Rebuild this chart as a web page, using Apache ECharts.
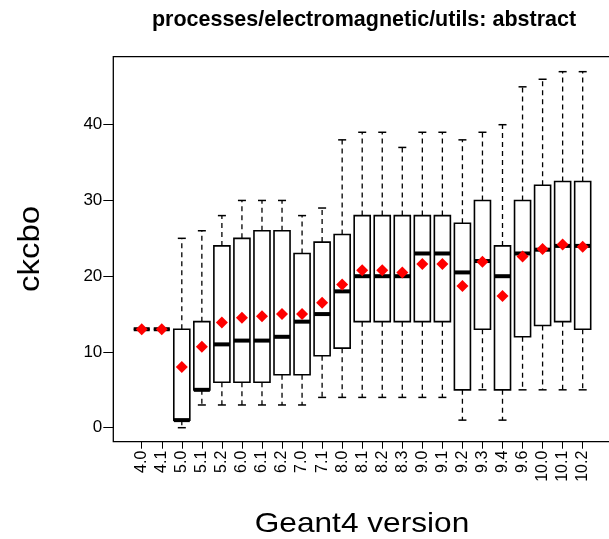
<!DOCTYPE html>
<html>
<head>
<meta charset="utf-8">
<script src="https://cdn.jsdelivr.net/npm/echarts@6/dist/echarts.min.js"></script>
<style>
  html, body { margin: 0; padding: 0; background: #fff; }
  #chart { width: 609px; height: 539px; }
</style>
</head>
<body>
<div id="chart"></div>
<script>
const categories = ['4.0','4.1','5.0','5.1','5.2','6.0','6.1','6.2','7.0','7.1','8.0','8.1','8.2','8.3','9.0','9.1','9.2','9.3','9.4','9.6','10.0','10.1','10.2'];
const mins    = [13, 13, 0, 3, 3, 3, 3, 3, 3, 4, 4, 4, 4, 4, 4, 4, 1, 5, 1, 5, 5, 5, 5];
const q1s     = [13, 13, 1, 5, 6, 6, 6, 7, 7, 9.5, 10.5, 14, 14, 14, 14, 14, 5, 13, 5, 12, 13.5, 14, 13];
const medians = [13, 13, 1, 5, 11, 11.5, 11.5, 12, 14, 15, 18, 20, 20, 20, 23, 23, 20.5, 22, 20, 23, 23.5, 24, 24];
const q3s     = [13, 13, 13, 14, 24, 25, 26, 26, 23, 24.5, 25.5, 28, 28, 28, 28, 28, 27, 30, 24, 30, 32, 32.5, 32.5];
const maxs    = [13, 13, 25, 26, 28, 30, 30, 30, 28, 29, 38, 39, 39, 37, 39, 39, 38, 39, 40, 45, 46, 47, 47];
const means   = [13, 13, 8, 10.7, 13.9, 14.5, 14.7, 15.0, 15.0, 16.5, 18.9, 20.8, 20.8, 20.5, 21.6, 21.6, 18.7, 21.9, 17.4, 22.6, 23.6, 24.2, 23.9];
const yTicks = { min: 0, max: 40, interval: 10 };

const boxData = categories.map((c, i) => [i, mins[i], q1s[i], medians[i], q3s[i], maxs[i]]);
const meanData = categories.map((c, i) => [i, means[i]]);

const FONT = 'Liberation Sans';

function renderBox(params, api) {
  const idx = api.value(0);
  const band = api.size([1, 0])[0];
  const boxW = band * 0.8;
  const capW = boxW * 0.5;
  const pMin = api.coord([idx, api.value(1)]);
  const pQ1 = api.coord([idx, api.value(2)]);
  const pMed = api.coord([idx, api.value(3)]);
  const pQ3 = api.coord([idx, api.value(4)]);
  const pMax = api.coord([idx, api.value(5)]);
  const x = pMed[0];
  const dash = { stroke: '#000', lineWidth: 1.3, lineDash: [5, 4], fill: null };
  const solid = { stroke: '#000', lineWidth: 1.5, fill: null };
  return {
    type: 'group',
    children: [
      { type: 'line', shape: { x1: x, y1: pQ3[1], x2: x, y2: pMax[1] }, style: dash },
      { type: 'line', shape: { x1: x, y1: pQ1[1], x2: x, y2: pMin[1] }, style: dash },
      { type: 'line', shape: { x1: x - capW / 2, y1: pMax[1], x2: x + capW / 2, y2: pMax[1] }, style: solid },
      { type: 'line', shape: { x1: x - capW / 2, y1: pMin[1], x2: x + capW / 2, y2: pMin[1] }, style: solid },
      { type: 'rect', shape: { x: x - boxW / 2, y: pQ3[1], width: boxW, height: pQ1[1] - pQ3[1] }, style: { stroke: '#000', lineWidth: 1.6, fill: 'rgba(0,0,0,0)' } },
      { type: 'line', shape: { x1: x - boxW / 2, y1: pMed[1], x2: x + boxW / 2, y2: pMed[1] }, style: { stroke: '#000', lineWidth: 4 } }
    ]
  };
}

const chart = echarts.init(document.getElementById('chart'), null, { renderer: 'canvas' });
chart.setOption({
  animation: false,
  backgroundColor: '#fff',
  title: {
    text: 'processes/electromagnetic/utils: abstract',
    left: 359, top: 4, textAlign: 'center',
    textStyle: { fontFamily: FONT, fontWeight: 'bold', fontSize: 21.5, color: '#000' }
  },
  grid: { left: 131.7, right: 16.3, top: 124.7, bottom: 111.3 },
  xAxis: {
    type: 'category', data: categories, offset: 14,
    axisLine: { show: true, onZero: false, lineStyle: { color: '#000', width: 1 } },
    axisTick: { show: true, alignWithLabel: true, length: 7, interval: 0, lineStyle: { color: '#000', width: 1 } },
    axisLabel: { rotate: 90, margin: 9, interval: 0, fontSize: 16, color: '#000', fontFamily: FONT },
    splitLine: { show: false }
  },
  yAxis: {
    type: 'value', min: yTicks.min, max: yTicks.max, interval: yTicks.interval, offset: 18.4,
    axisLine: { show: true, onZero: false, lineStyle: { color: '#000', width: 1 } },
    axisTick: { show: true, length: 10, lineStyle: { color: '#000', width: 1 } },
    axisLabel: { margin: 11, fontSize: 17, color: '#000', fontFamily: FONT },
    splitLine: { show: false }
  },
  graphic: [
    { type: 'rect', shape: { x: 113.3, y: 56.7, width: 498, height: 385 }, style: { stroke: '#000', lineWidth: 1.3, fill: null }, z: 10 },
    { type: 'text', x: 31, y: 249, rotation: Math.PI / 2, scaleX: 1.1, style: { text: 'ckcbo', font: '30px "Liberation Sans"', align: 'center', verticalAlign: 'middle', fill: '#000' } },
    { type: 'text', x: 362, y: 524, scaleX: 1.13, style: { text: 'Geant4 version', font: '28px "Liberation Sans"', align: 'center', verticalAlign: 'middle', fill: '#000' } }
  ],
  series: [
    { type: 'custom', renderItem: renderBox, data: boxData, encode: { x: 0, y: [1, 2, 3, 4, 5] }, z: 2 },
    { type: 'scatter', data: meanData, symbol: 'diamond', symbolSize: 12, itemStyle: { color: '#ff0000', opacity: 1 }, z: 5 }
  ]
});
</script>
</body>
</html>
